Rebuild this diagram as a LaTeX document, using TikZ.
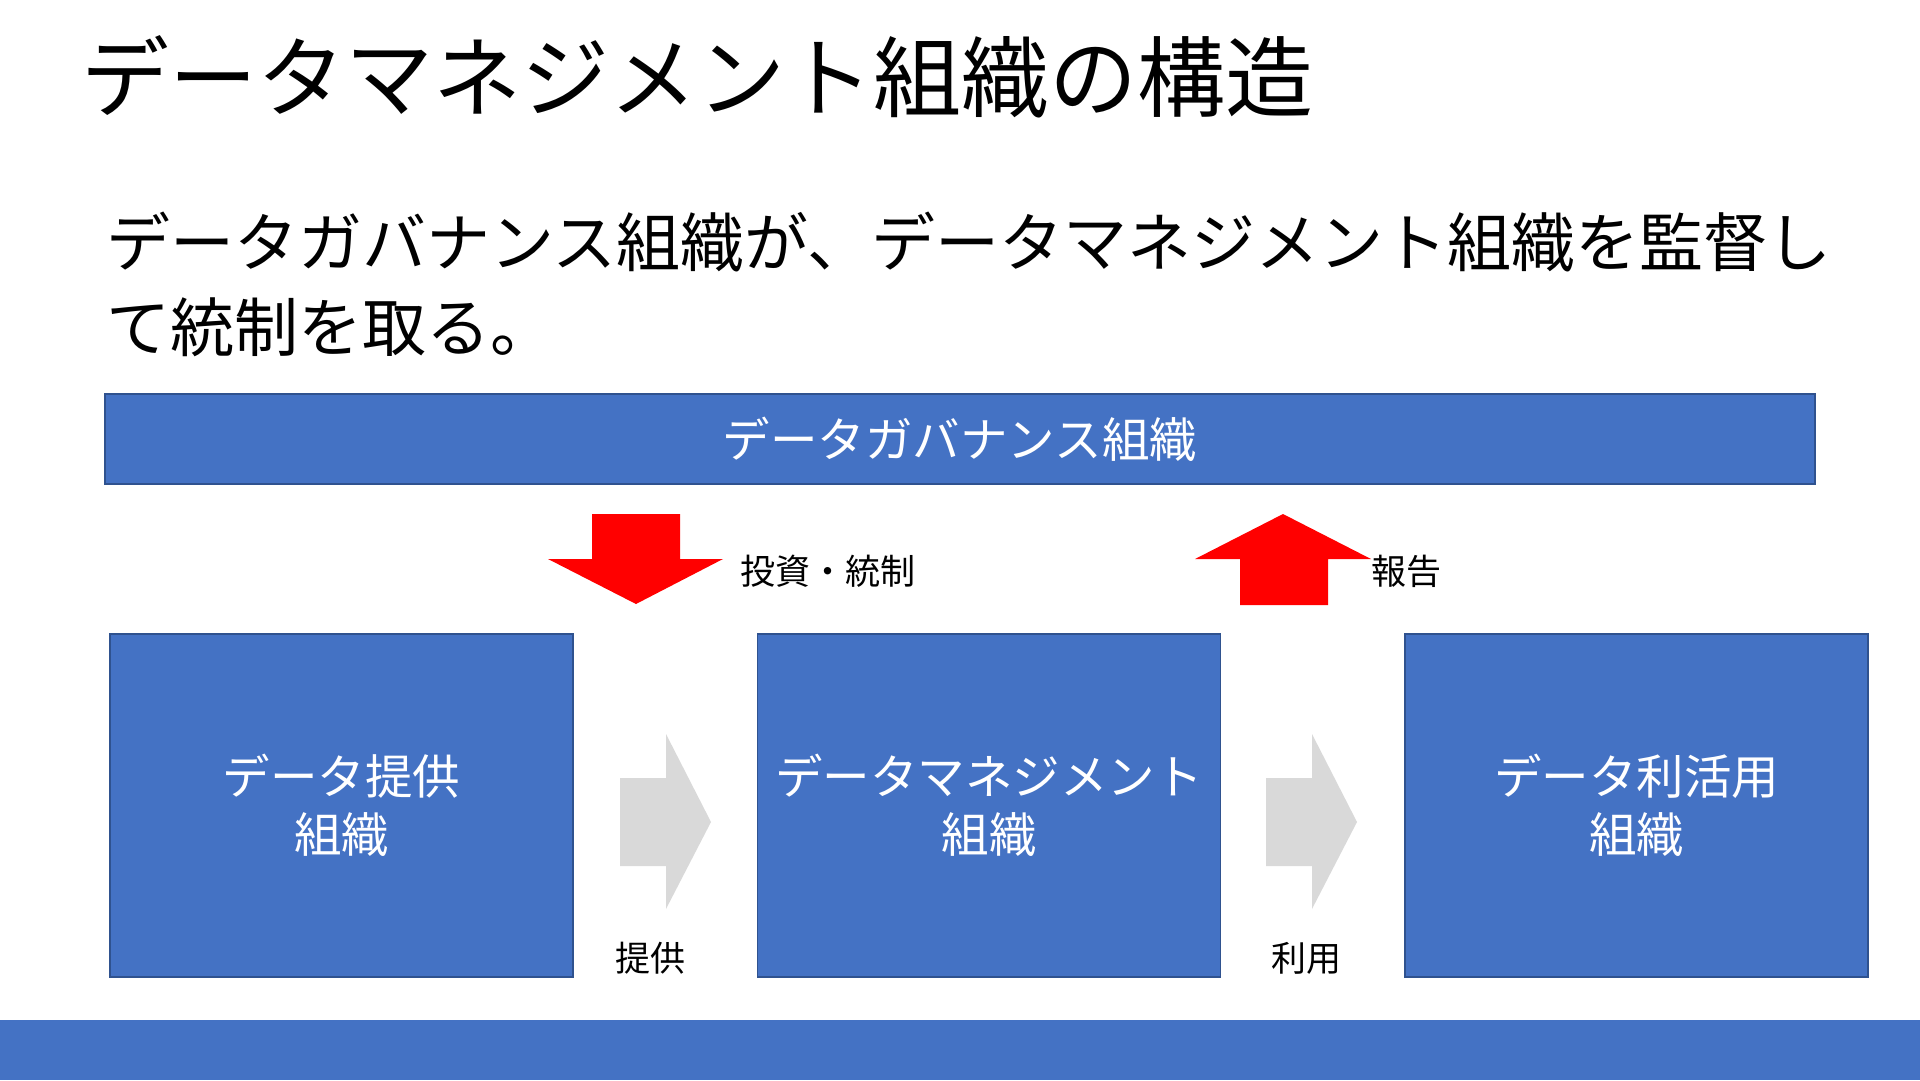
\documentclass[tikz,border=0pt]{standalone}
\usepackage{fontspec}
\setmainfont{Noto Sans CJK JP}
\usepackage{tikz}
\usetikzlibrary{positioning}
\definecolor{dmblue}{HTML}{4472C4}
\definecolor{dmborder}{HTML}{2F528F}
\definecolor{dmred}{HTML}{FF0000}
\definecolor{dmgray}{HTML}{D9D9D9}
\tikzset{
  orgbox/.style={draw=dmborder,line width=1.5pt,fill=dmblue,minimum width=463pt,
    minimum height=343pt,inner sep=0pt,align=center,text=white,
    font=\fontsize{47.5}{58}\selectfont},
  govbox/.style={orgbox,minimum width=1710pt,minimum height=90pt},
  flowlabel/.style={inner sep=0pt,font=\fontsize{35}{42}\selectfont},
  redarrow/.style={fill=dmred},
  grayarrow/.style={fill=dmgray}
}

\begin{document}
\begin{tikzpicture}[x=1pt,y=-1pt,node distance=0pt and 183pt]
    \useasboundingbox (0,0) rectangle (1920,1080);
    \node[anchor=west,inner sep=0pt,font=\fontsize{88}{100}\selectfont] (title) at (81,77) {データマネジメント組織の構造};
    \node[anchor=west,inner sep=0pt,align=left,font=\fontsize{64}{85}\selectfont] (lead) at (106,284)
      {データガバナンス組織が、データマネジメント組織を監督し\\て統制を取る。};
    \node[govbox] (gov) at (960,439) {データガバナンス組織};
    \node[orgbox] (prov) at (341.5,805.5) {データ提供\\組織};
    \node[orgbox,right=of prov] (mgmt) {データマネジメント\\組織};
    \node[orgbox,right=of mgmt] (use) {データ利活用\\組織};
    % investment / report
    \fill[redarrow] (592,514) -- (680,514) -- (680,559) -- (723,559) -- (636,604) -- (548,559) -- (592,559) -- cycle;
    \fill[redarrow] (1283,514) -- (1371,559) -- (1328,559) -- (1328,605) -- (1240,605) -- (1240,559) -- (1195,559) -- cycle;
    \node[flowlabel,anchor=west] (invest) at (740,571) {投資・統制};
    \node[flowlabel,anchor=west] (report) at (1371,571) {報告};
    % data flow
    \fill[grayarrow] (620,778) -- (666,778) -- (666,734) -- (711,822) -- (666,909) -- (666,866) -- (620,866) -- cycle;
    \fill[grayarrow] (1266,778) -- (1312,778) -- (1312,734) -- (1357,822) -- (1312,909) -- (1312,866) -- (1266,866) -- cycle;
    \node[flowlabel] (provlabel) at (650,958) {提供};
    \node[flowlabel] (uselabel) at (1306,958) {利用};
    \fill[dmblue] (0,1020) rectangle (1920,1080);
  \end{tikzpicture}
\end{document}
